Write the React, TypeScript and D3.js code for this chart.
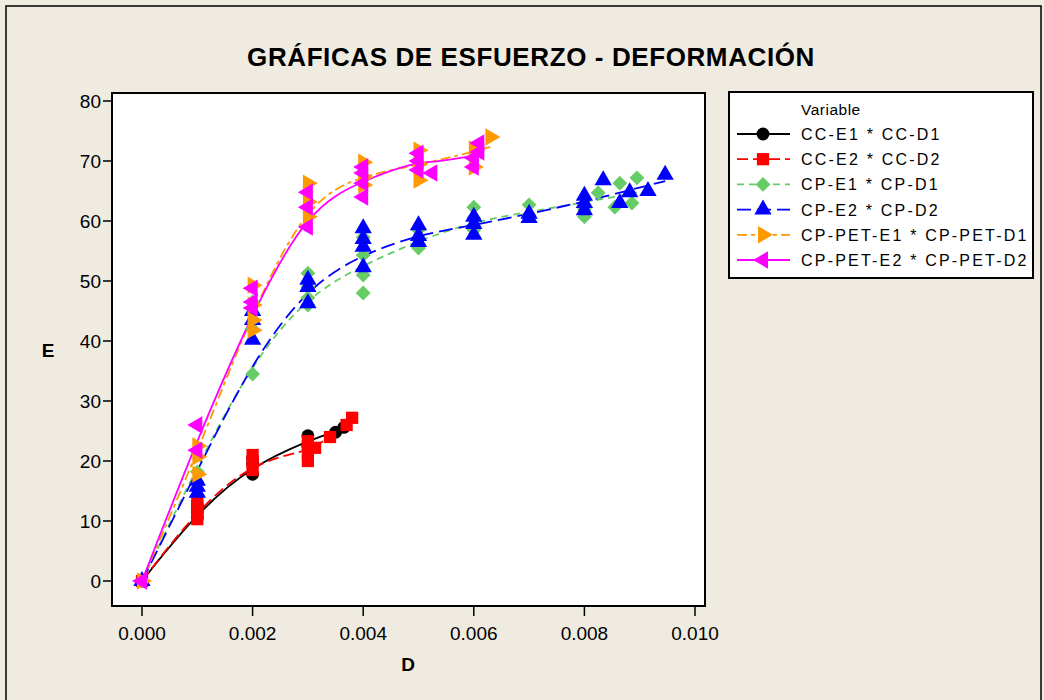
import React from 'react';
import * as d3 from 'd3';

// Datos: [D, E]
const ccE1: [number, number][] = [
  [0, 0], [0.001, 10.5], [0.001, 11.5], [0.001, 12.5], [0.002, 17.8], [0.002, 19.5], [0.002, 20.5],
  [0.003, 22.5], [0.003, 24.2], [0.0035, 24.8], [0.00365, 25.6],
];
const ccE2: [number, number][] = [
  [0, 0], [0.001, 10.3], [0.001, 11.5], [0.001, 12.5], [0.001, 13.5], [0.002, 18.5], [0.002, 19.8], [0.002, 21],
  [0.003, 20], [0.003, 21.3], [0.003, 22.5], [0.003, 23.3], [0.00313, 22.2], [0.0034, 24], [0.0037, 26], [0.0038, 27.2],
];
const cpE1: [number, number][] = [
  [0, 0], [0.001, 16.5], [0.001, 18.2], [0.002, 34.5], [0.002, 42], [0.002, 46.5],
  [0.003, 46], [0.003, 47.2], [0.003, 49], [0.003, 51.3], [0.004, 48], [0.004, 51], [0.004, 54.3], [0.004, 57.3],
  [0.005, 55.5], [0.005, 57], [0.005, 58.5], [0.006, 58.5], [0.006, 60.5], [0.006, 62.3], [0.007, 61], [0.007, 62.7],
  [0.008, 60.7], [0.008, 62], [0.00825, 64.7], [0.00855, 62.3], [0.00864, 66.3], [0.00886, 63], [0.00895, 67.2],
];
const cpE2: [number, number][] = [
  [0, 0], [0.001, 14.7], [0.001, 15.7], [0.001, 16.7], [0.002, 40.2], [0.002, 43.5], [0.002, 45],
  [0.003, 46.3], [0.003, 49], [0.003, 50.2], [0.004, 52.3], [0.004, 55.7], [0.004, 57], [0.004, 58.8],
  [0.005, 56.5], [0.005, 57.5], [0.005, 59.3], [0.006, 57.7], [0.006, 59.5], [0.006, 60.7], [0.007, 60.5], [0.007, 61.2],
  [0.008, 61.8], [0.008, 63], [0.008, 64.2], [0.00834, 66.8], [0.00864, 63], [0.00882, 64.8], [0.00915, 65], [0.00946, 67.7],
];
const cpPetE1: [number, number][] = [
  [0, 0], [0.001, 17.8], [0.001, 20.7], [0.001, 22.5], [0.002, 41.8], [0.002, 43.5], [0.002, 46], [0.002, 49.3],
  [0.003, 60.7], [0.003, 63.2], [0.003, 66.3], [0.004, 66], [0.004, 67.3], [0.004, 69.8],
  [0.005, 66.8], [0.005, 69.5], [0.005, 71.8], [0.006, 69], [0.006, 72], [0.0063, 74],
];
const cpPetE2: [number, number][] = [
  [0, 0], [0.001, 21.8], [0.001, 26], [0.002, 45.5], [0.002, 46.5], [0.002, 48.8],
  [0.003, 59], [0.003, 62.3], [0.003, 64.8], [0.004, 64], [0.004, 66.3], [0.004, 68], [0.004, 69],
  [0.005, 68.5], [0.005, 70], [0.005, 71.3], [0.00525, 68], [0.006, 69], [0.006, 70.5], [0.0061, 71.5], [0.0061, 73],
];

const seriesNames = [
  'CC-E1 * CC-D1', 'CC-E2 * CC-D2', 'CP-E1 * CP-D1',
  'CP-E2 * CP-D2', 'CP-PET-E1 * CP-PET-D1', 'CP-PET-E2 * CP-PET-D2',
];
const seriesData = [ccE1, ccE2, cpE1, cpE2, cpPetE1, cpPetE2];
const colors = ['#000000', '#ff0000', '#66cc66', '#0000ff', '#ff9900', '#ff00ff'];
const dashes = ['none', '11,5', '7,5', '14,6', '10,4,4,4', 'none'];
const xTicks = [0, 0.002, 0.004, 0.006, 0.008, 0.01];
const yTicks = [0, 10, 20, 30, 40, 50, 60, 70, 80];

const W = 1044;
const H = 700;
const box = { left: 112, right: 705, top: 93, bottom: 606 };

const x = d3.scaleLinear().domain([0, 0.01]).range([142, 695]);
const y = d3.scaleLinear().domain([0, 80]).range([581, 101]);

// suavizado lowess simple (el primer punto queda en la media de los datos en D = 0)
function lowess(pts: [number, number][], f: number): [number, number][] {
  const n = pts.length;
  const k = Math.max(2, Math.ceil(f * n));
  const xs = Array.from(new Set(pts.map(p => p[0]))).sort((a, b) => a - b);
  return xs.map((x0, idx) => {
    if (idx === 0) {
      const first = pts.filter(p => p[0] === x0);
      return [x0, d3.mean(first, p => p[1]) as number] as [number, number];
    }
    const d = pts.map(p => Math.abs(p[0] - x0));
    const sorted = [...d].sort((a, b) => a - b);
    const h = Math.max(sorted[k - 1], 1e-9) * 1.0001;
    let sw = 0, sx = 0, sy = 0, sxx = 0, sxy = 0;
    pts.forEach((p, i) => {
      const u = d[i] / h;
      const w = u < 1 ? Math.pow(1 - u * u * u, 3) : 0;
      sw += w; sx += w * p[0]; sy += w * p[1]; sxx += w * p[0] * p[0]; sxy += w * p[0] * p[1];
    });
    const mx = sx / sw, my = sy / sw;
    const vx = sxx / sw - mx * mx;
    if (vx < 1e-14) return [x0, my] as [number, number];
    const b = (sxy / sw - mx * my) / vx;
    return [x0, my + b * (x0 - mx)] as [number, number];
  });
}

const tri = d3.symbol().type(d3.symbolTriangle).size(130)() as string;
const markerPath = [
  d3.symbol().type(d3.symbolCircle).size(130)() as string,
  d3.symbol().type(d3.symbolSquare).size(150)() as string,
  d3.symbol().type(d3.symbolSquare).size(110)() as string,
  tri,
  tri,
  tri,
];
const markerRotate = [0, 0, 45, 0, 90, -90];

const line = d3.line<[number, number]>()
  .x(d => x(d[0]))
  .y(d => y(d[1]))
  .curve(d3.curveBasis);

const font = '"Liberation Sans", Arial, sans-serif';

export default function App() {
  return (
    <svg width={W} height={H} style={{ position: 'absolute', left: 0, top: 0 }} fontFamily={font}>
      <rect x={0} y={0} width={W} height={H} fill="#efebe1" />
      <rect x={6} y={6} width={1035} height={720} fill="none" stroke="#000" strokeWidth={1.5} />

      <text x={531} y={66} textAnchor="middle" fontSize={26} fontWeight="bold" letterSpacing={0.6}>
        GRÁFICAS DE ESFUERZO - DEFORMACIÓN
      </text>

      <rect x={box.left} y={box.top} width={box.right - box.left} height={box.bottom - box.top}
        fill="#fff" stroke="#000" strokeWidth={2} />

      {yTicks.map(t => (
        <g key={'y' + t}>
          <line x1={box.left - 9} x2={box.left} y1={y(t)} y2={y(t)} stroke="#000" strokeWidth={1.5} />
          <text x={box.left - 11} y={y(t) + 7} textAnchor="end" fontSize={19}>{t}</text>
        </g>
      ))}
      {xTicks.map(t => (
        <g key={'x' + t}>
          <line x1={x(t)} x2={x(t)} y1={box.bottom} y2={box.bottom + 10} stroke="#000" strokeWidth={1.5} />
          <text x={x(t)} y={box.bottom + 34} textAnchor="middle" fontSize={19}>{d3.format('.3f')(t)}</text>
        </g>
      ))}
      <text x={48} y={357} textAnchor="middle" fontSize={19} fontWeight="bold">E</text>
      <text x={408} y={671} textAnchor="middle" fontSize={19} fontWeight="bold">D</text>

      {seriesData.map((pts, i) => (
        <path key={'l' + i} d={line(lowess(pts, 0.42)) || ''} fill="none" stroke={colors[i]}
          strokeWidth={1.8} strokeDasharray={dashes[i]} />
      ))}
      {seriesData.map((pts, i) => (
        <g key={'m' + i} fill={colors[i]}>
          {pts.map((p, j) => (
            <path key={j} d={markerPath[i]}
              transform={`translate(${x(p[0])},${y(p[1])}) rotate(${markerRotate[i]})`} />
          ))}
        </g>
      ))}

      <rect x={729} y={92} width={304} height={186} fill="#fff" stroke="#000" strokeWidth={2} />
      <text x={801} y={115} fontSize={15.5} letterSpacing={0.5}>Variable</text>
      {seriesNames.map((name, i) => {
        const ly = 134 + i * 25.2;
        return (
          <g key={'lg' + i}>
            <line x1={737} x2={790} y1={ly} y2={ly} stroke={colors[i]} strokeWidth={1.8}
              strokeDasharray={dashes[i] === 'none' ? undefined : dashes[i]} />
            <path d={markerPath[i]} fill={colors[i]}
              transform={`translate(763,${ly}) rotate(${markerRotate[i]})`} />
            <text x={801} y={ly + 6} fontSize={16} letterSpacing={2.2}>{name}</text>
          </g>
        );
      })}
    </svg>
  );
}
